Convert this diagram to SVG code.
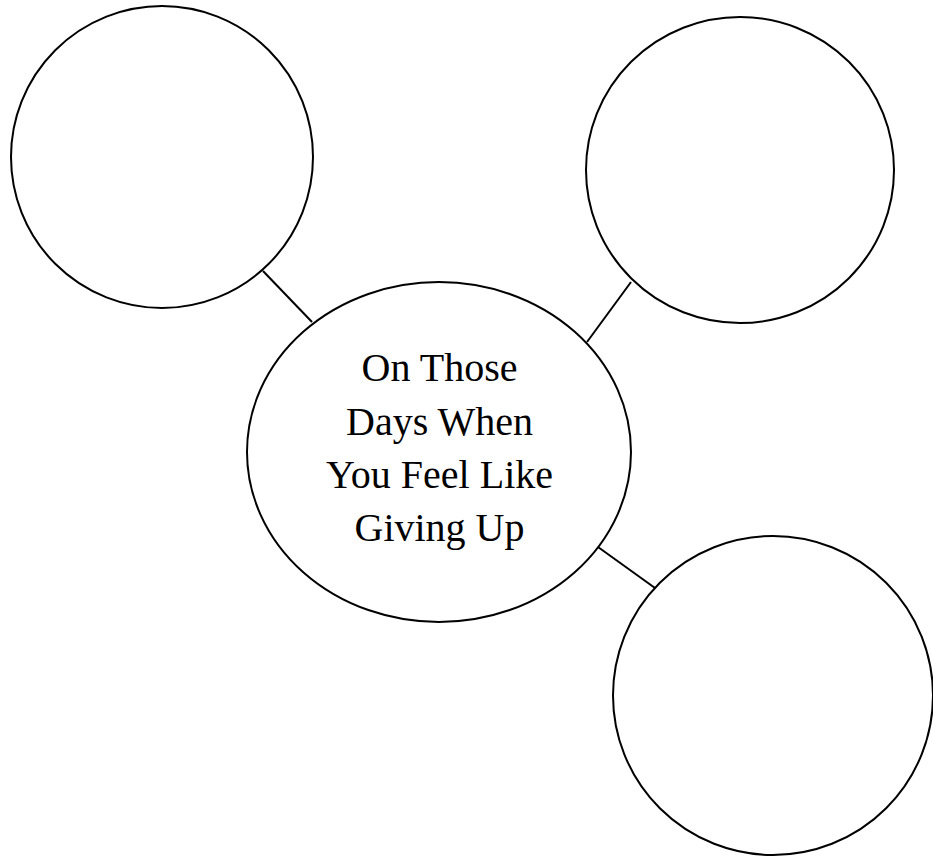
<svg xmlns="http://www.w3.org/2000/svg" width="933" height="856" viewBox="0 0 933 856">
<style>
.node{fill:#fff;stroke:#000;stroke-width:2}
.conn{stroke:#000;stroke-width:2;fill:none}
.lbl{font-family:"Liberation Serif","Times New Roman",serif;font-size:40px;fill:#000;text-anchor:middle}
</style>
<rect width="933" height="856" fill="#fff"/>
<g id="connectors">
<line class="conn" x1="263" y1="271" x2="312" y2="322"/>
<line class="conn" x1="631" y1="282" x2="587" y2="342"/>
<line class="conn" x1="598" y1="547" x2="655" y2="588"/>
</g>
<g id="node-top-left"><ellipse class="node" cx="162" cy="157" rx="151" ry="151"/></g>
<g id="node-top-right"><ellipse class="node" cx="740" cy="170" rx="154" ry="153"/></g>
<g id="node-bottom-right"><ellipse class="node" cx="773" cy="695.5" rx="160" ry="159.5"/></g>
<g id="node-center">
<ellipse class="node" cx="439" cy="452" rx="192" ry="170"/>
<text class="lbl" x="439.5" y="381">On Those</text>
<text class="lbl" x="439.5" y="435">Days When</text>
<text class="lbl" x="439.5" y="488">You Feel Like</text>
<text class="lbl" x="439.5" y="541">Giving Up</text>
</g>
</svg>
